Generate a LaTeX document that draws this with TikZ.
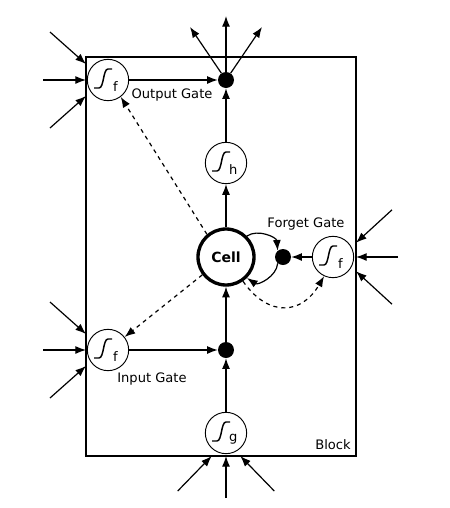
\documentclass[tikz,border=0pt]{standalone}
\usepackage{fontspec}
\setmainfont{DejaVu Sans}
\usetikzlibrary{arrows.meta}

\begin{document}
\begin{tikzpicture}[x=0.75pt,y=-0.75pt,font=\fontsize{9.8}{12}\selectfont,
  arr/.style={-{Latex[length=8pt,width=6pt]},line width=0.9pt},
  gate/.style={circle,draw,line width=0.7pt,fill=white,minimum size=31pt,inner sep=0pt,
    path picture={\draw[line width=1.1pt,shift={(path picture bounding box.center)}]
      (-14,8) -- (-9,8) .. controls (-4,8) and (-5,-11) .. (0,-11) -- (4,-11);},
    label={[xshift=5.5pt,yshift=-5pt]center:#1}},
  dot/.style={circle,fill=black,minimum size=12pt,inner sep=0pt}]

\useasboundingbox (0,0) rectangle (450,508);
\draw[line width=1.2pt] (86,57) rectangle (356,456);

\node[gate=f] (og) at (108,80) {};
\node[dot] (om) at (226,80) {};
\node[gate=h] (hh) at (226,163) {};
\node[circle,draw,line width=2.5pt,minimum size=42pt,font=\bfseries\fontsize{10.5}{12}\selectfont] (cell) at (226,257) {Cell};
\node[dot] (fm) at (283,257) {};
\node[gate=f] (fg) at (333,257) {};
\node[gate=f] (ig) at (108,350) {};
\node[dot] (im) at (226,350) {};
\node[gate=g] (gg) at (226,433) {};

\node (oglabel) at (172,95) {Output Gate};
\node (fglabel) at (306,224) {Forget Gate};
\node (iglabel) at (152,379) {Input Gate};
\node (blocklabel) at (333,445) {Block};

% inputs
\foreach \g in {og,ig}{
\foreach \dx/\dy in {-36/-32,-43/0,-36/32}
\draw[arr] ([shift={(-22+\dx,1.5*\dy)}]\g.center) -- ([shift={(-22,\dy/2)}]\g.center);
}
\foreach \dx/\dy in {36/-33,42/0,36/33}
\draw[arr] ([shift={(23+\dx,1.43*\dy)}]fg.center) -- ([shift={(23,0.43*\dy)}]fg.center);
\foreach \dx/\dy in {-34/35,0/42,34/35}
\draw[arr] ([shift={(1.42*\dx,23+\dy)}]gg.center) -- ([shift={(0.42*\dx,23)}]gg.center);
% outputs
\foreach \dx/\dy in {-36/-53,0/-64,36/-53}
\draw[arr] (om) -- ++(\dx,\dy);

\draw[arr] (og) -- (om);
\draw[arr] (hh) -- (om);
\draw[arr] (cell) -- (hh);
\draw[arr] (gg) -- (im);
\draw[arr] (im) -- (cell);
\draw[arr] (ig) -- (im);
\draw[arr] (fg) -- (fm);
\draw[arr] (cell.45) to[bend left=60] (fm.130);
\draw[arr] (fm.230) to[bend left=60] (cell.-45);

% peepholes
\draw[arr,dashed] (cell.130) -- (og.-53);
\draw[arr,dashed] (cell.-143) -- (ig.38);
\draw[arr,dashed] (cell.-55) to[out=-55,in=-120,looseness=1.4] (fg.-115);
\end{tikzpicture}
\end{document}
